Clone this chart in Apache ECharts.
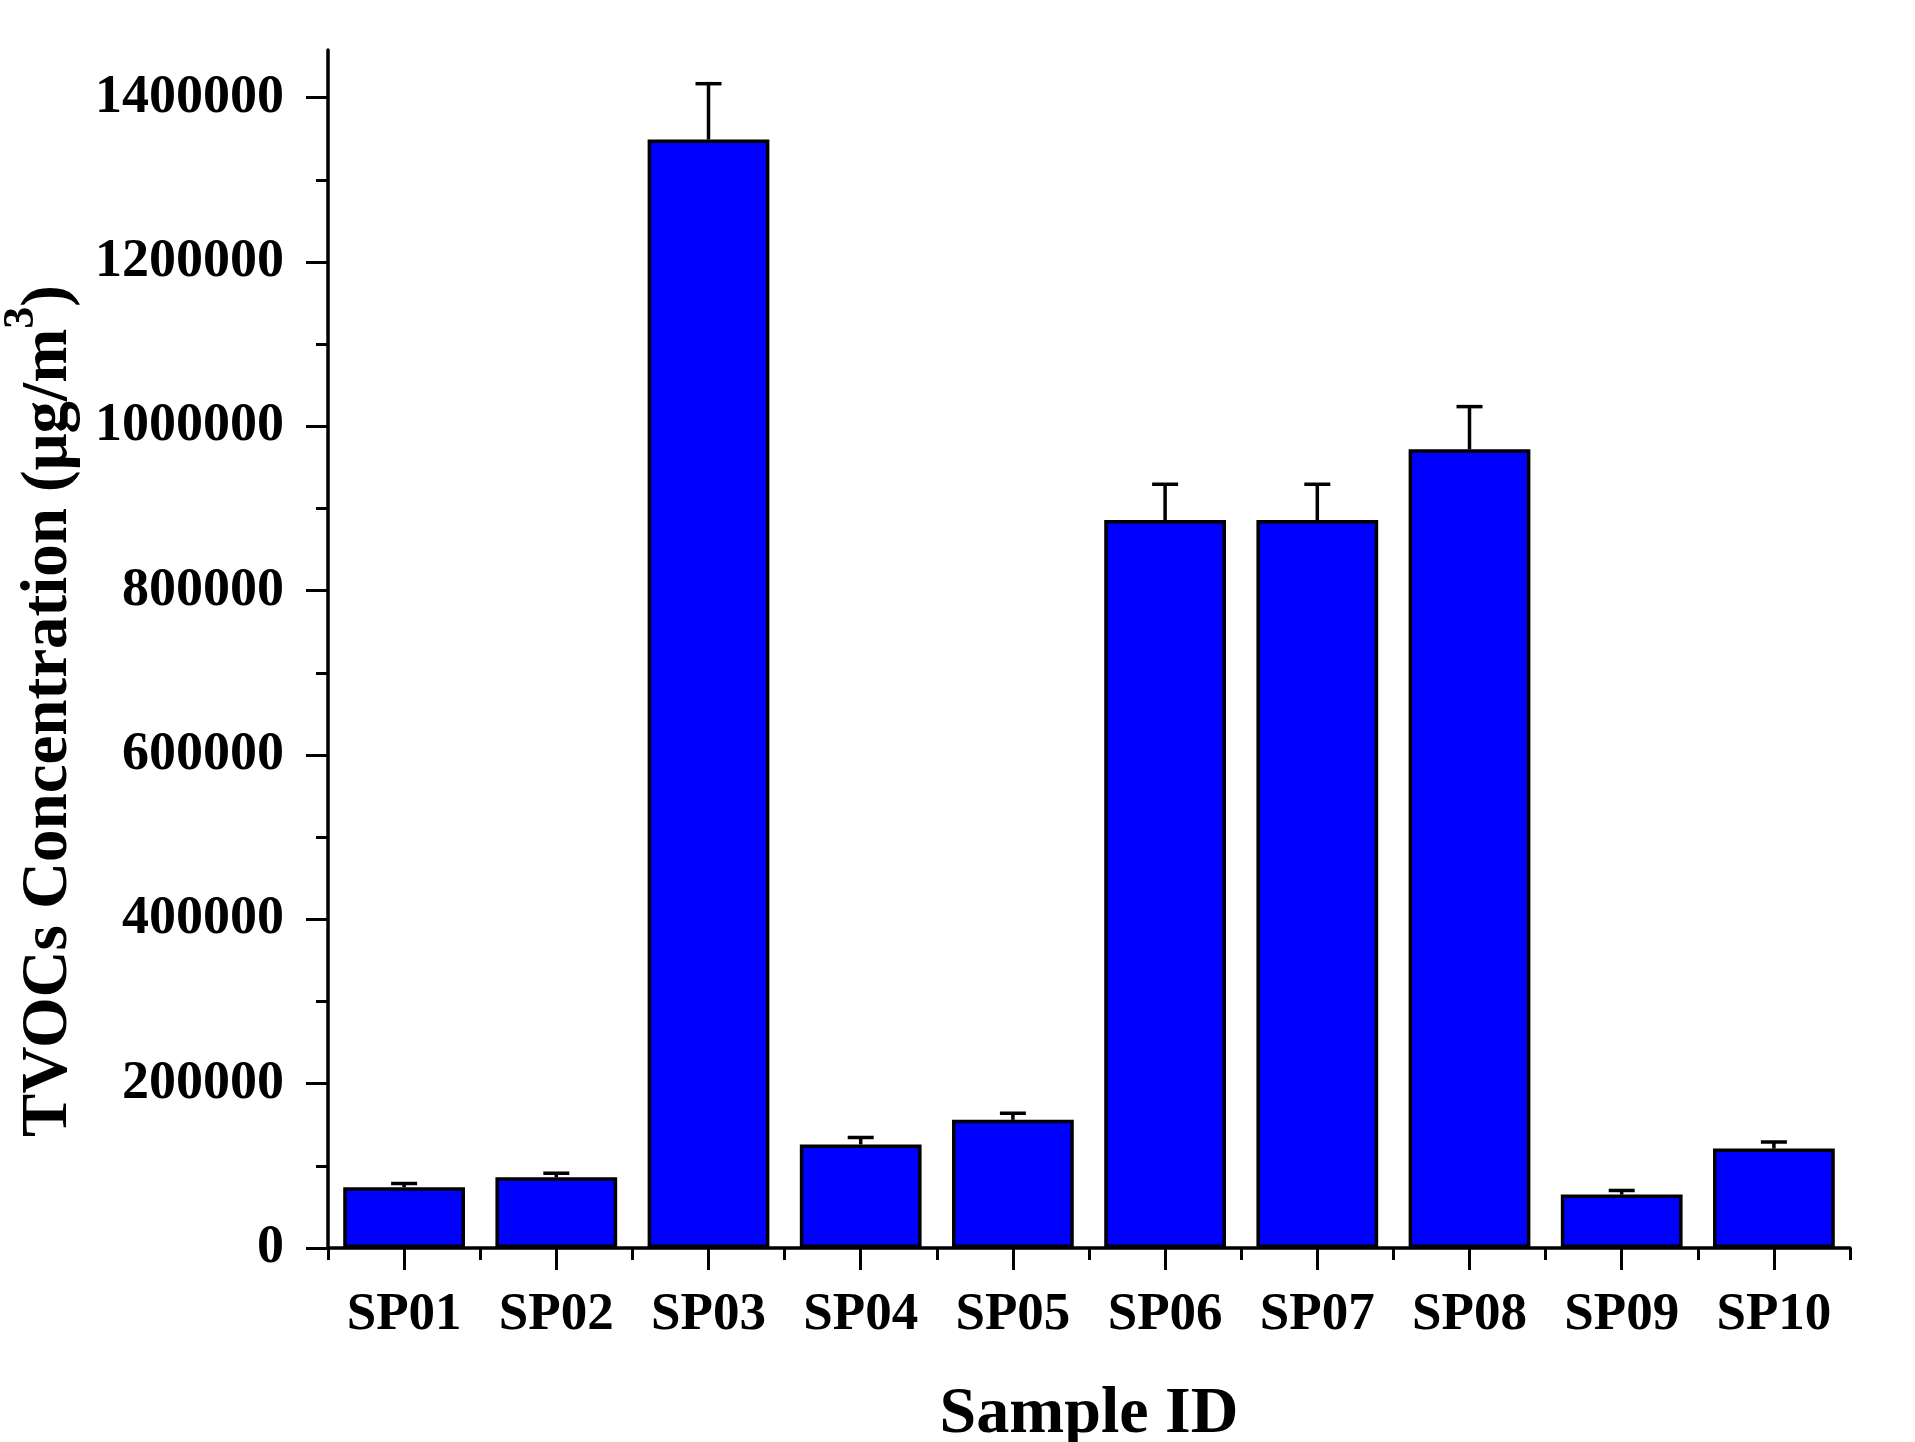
<!DOCTYPE html>
<html>
<head>
<meta charset="utf-8">
<script src="https://cdn.jsdelivr.net/npm/echarts@6/dist/echarts.min.js"></script>
<style>
html,body{margin:0;padding:0;background:#fff;}
#chart{width:1915px;height:1442px;}
</style>
</head>
<body>
<div id="chart"></div>
<script>
const categories = ['SP01','SP02','SP03','SP04','SP05','SP06','SP07','SP08','SP09','SP10'];
const tvocMeans = [74000, 86000, 1349000, 126000, 156000, 886000, 886000, 972000, 65000, 121000];
const tvocErrors = [4500, 5000, 68000, 8500, 8000, 43500, 43500, 52000, 5000, 8000];
const yMajorTicks = [0, 200000, 400000, 600000, 800000, 1000000, 1200000, 1400000];
const yMinorTicks = [100000, 300000, 500000, 700000, 900000, 1100000, 1300000];
const yMax = 1458000;

const FONT = '"Liberation Serif", "Times New Roman", serif';
const chart = echarts.init(document.getElementById('chart'), null, {renderer: 'canvas'});

const option = {
  backgroundColor: '#ffffff',
  animation: false,
  grid: {left: 328, right: 65, top: 50, bottom: 194, containLabel: false, outerBoundsMode: 'none'},
  xAxis: [
    {
      type: 'category',
      data: categories,
      boundaryGap: true,
      name: 'Sample ID',
      nameLocation: 'middle',
      nameGap: 134,
      nameTextStyle: {fontFamily: FONT, fontWeight: 'bold', fontSize: 66, color: '#000'},
      axisLine: {show: true, lineStyle: {color: '#000', width: 3.5}},
      axisTick: {show: true, inside: false, length: 12, alignWithLabel: false, lineStyle: {color: '#000', width: 3}},
      axisLabel: {show: true, margin: 41, fontFamily: FONT, fontWeight: 'bold', fontSize: 53, color: '#000'},
      splitLine: {show: false}
    },
    {
      type: 'category',
      data: categories,
      boundaryGap: true,
      position: 'bottom',
      axisLine: {show: false},
      axisTick: {show: true, inside: false, length: 22, alignWithLabel: true, lineStyle: {color: '#000', width: 3}},
      axisLabel: {show: false},
      splitLine: {show: false}
    }
  ],
  yAxis: [
    {
      type: 'value',
      min: 0,
      max: yMax,
      name: 'TVOCs Concentration (μg/m{sup|3})',
      nameLocation: 'middle',
      nameGap: 223,
      nameTextStyle: {
        fontFamily: FONT, fontWeight: 'bold', fontSize: 65, color: '#000', lineHeight: 70,
        padding: [0, 124, 0, 0],
        rich: {
          sup: {fontFamily: FONT, fontWeight: 'bold', fontSize: 44, color: '#000', lineHeight: 44, padding: [0, 0, 40, 0], verticalAlign: 'bottom'}
        }
      },
      axisLine: {show: true, onZero: false, lineStyle: {color: '#000', width: 3.5}},
      axisTick: {show: true, inside: false, length: 22, customValues: yMajorTicks, lineStyle: {color: '#000', width: 3}},
      axisLabel: {show: true, margin: 44, customValues: yMajorTicks, formatter: function (v) { return String(v); }, fontFamily: FONT, fontWeight: 'bold', fontSize: 54, color: '#000'},
      minorTick: {show: false},
      splitLine: {show: false}
    },
    {
      type: 'value',
      min: 0,
      max: yMax,
      position: 'left',
      axisLine: {show: false},
      axisTick: {show: true, inside: false, length: 12, customValues: yMinorTicks, lineStyle: {color: '#000', width: 3}},
      axisLabel: {show: false},
      splitLine: {show: false}
    }
  ],
  series: [
    {
      type: 'bar',
      data: tvocMeans,
      xAxisIndex: 0,
      yAxisIndex: 0,
      barCategoryGap: '20%',
      itemStyle: {color: '#0000ff', borderColor: '#000', borderWidth: 3.5},
      z: 2
    },
    {
      type: 'custom',
      xAxisIndex: 0,
      yAxisIndex: 0,
      data: tvocMeans.map((v, i) => [i, v, tvocErrors[i]]),
      encode: {x: 0, y: 1},
      z: 3,
      renderItem: function (params, api) {
        const idx = api.value(0);
        const base = api.coord([idx, api.value(1)]);
        const top = api.coord([idx, api.value(1) + api.value(2)]);
        const half = 13;
        const style = {stroke: '#000', lineWidth: 3.5};
        return {
          type: 'group',
          children: [
            {type: 'line', shape: {x1: base[0], y1: base[1], x2: top[0], y2: top[1]}, style: style},
            {type: 'line', shape: {x1: top[0] - half, y1: top[1], x2: top[0] + half, y2: top[1]}, style: style}
          ]
        };
      }
    }
  ]
};
chart.setOption(option);
</script>
</body>
</html>
